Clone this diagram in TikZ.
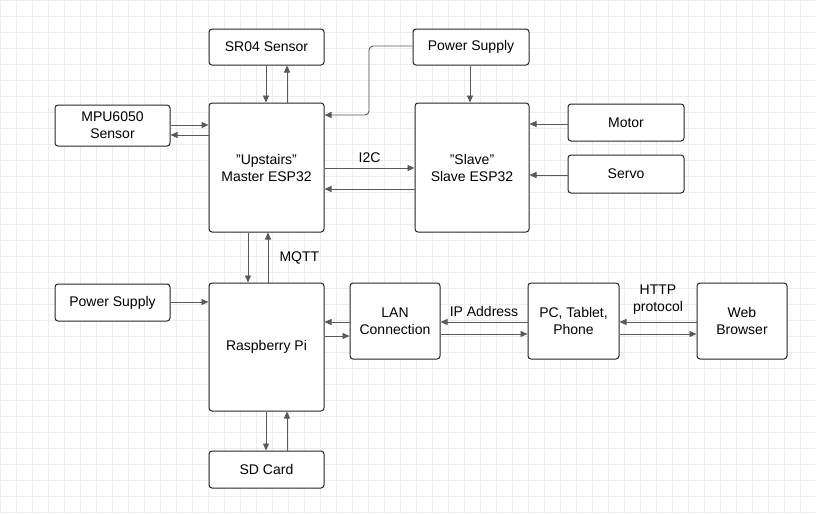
\documentclass[tikz,border=0pt]{standalone}
\usepackage{fontspec}
\setmainfont{Liberation Sans}
\usetikzlibrary{arrows.meta}
\begin{document}
\begin{tikzpicture}[x=1pt,y=-1pt,
  box/.style={draw=black!85,line width=1pt,rounded corners=3pt,fill=white,align=center,font=\fontsize{14}{17}\selectfont,inner sep=0pt},
  lbl/.style={font=\fontsize{14}{17}\selectfont,align=center},
  ar/.style={draw=black!65,line width=0.9pt,-{Triangle[length=7pt,width=6pt]}}]
\useasboundingbox (0,0) rectangle (816,514);
\fill[white] (0,0) rectangle (816,514);
\foreach \i in {0,16,...,816} \draw[black!7,line width=0.5pt] (\i,0) -- (\i,514);
\foreach \j in {0,16,...,514} \draw[black!7,line width=0.5pt] (0,\j) -- (816,\j);
\def\bx#1#2#3#4#5#6{\node[box,minimum width=#4-#2,minimum height=#5-#3] (#1) at ({(#2+#4)/2},{(#3+#5)/2}) {#6};}
\def\q{\symbol{34}}
\bx{sr}{209}{29}{324}{65}{SR04 Sensor}
\bx{pst}{413}{29}{529}{65}{Power Supply}
\bx{mpu}{55}{105}{170}{146}{MPU6050\\Sensor}
\bx{m}{209}{103}{324}{232}{\q Upstairs\q\\Master ESP32}
\bx{s}{415}{103}{529}{232}{\q Slave\q\\Slave ESP32}
\bx{mot}{568}{104}{684}{141}{Motor}
\bx{ser}{568}{155}{684}{193}{Servo}
\bx{psl}{55}{284}{170}{321}{Power Supply}
\bx{rp}{209}{283}{324}{411}{Raspberry Pi}
\bx{lan}{350}{283}{440}{359}{LAN\\Connection}
\bx{pc}{528}{283}{619}{359}{PC, Tablet,\\Phone}
\bx{wb}{697}{283}{787}{359}{Web\\Browser}
\bx{sd}{209}{451}{324}{488}{SD Card}
\draw[ar] (sr.south -| 266,0) -- (m.north -| 266,0);
\draw[ar] (m.north -| 287,0) -- (sr.south -| 287,0);
\draw[ar] (pst.south -| 470,0) -- (s.north -| 470,0);
\draw[ar,rounded corners=4pt] (pst.west |- 0,46) -- (369,46) -- (369,115) -- (m.east |- 0,115);
\draw[ar] (mpu.east |- 0,125) -- (m.west |- 0,125);
\draw[ar] (m.west |- 0,135) -- (mpu.east |- 0,135);
\draw[ar] (m.east |- 0,168) -- node[lbl,above=2pt] {I2C} (s.west |- 0,168);
\draw[ar] (s.west |- 0,189) -- (m.east |- 0,189);
\draw[ar] (mot.west |- 0,124) -- (s.east |- 0,124);
\draw[ar] (ser.west |- 0,175) -- (s.east |- 0,175);
\draw[ar] (m.south -| 248,0) -- (rp.north -| 248,0);
\draw[ar] (rp.north -| 268,0) -- (m.south -| 268,0);
\node[lbl,anchor=west] (mq) at (276,258) {MQTT};
\draw[ar] (psl.east |- 0,302) -- (rp.west |- 0,302);
\draw[ar] (lan.west |- 0,322) -- (rp.east |- 0,322);
\draw[ar] (rp.east |- 0,336) -- (lan.west |- 0,336);
\draw[ar] (pc.west |- 0,322) -- node[lbl,above=2pt] {IP Address} (lan.east |- 0,322);
\draw[ar] (lan.east |- 0,334) -- (pc.west |- 0,334);
\draw[ar] (wb.west |- 0,322) -- node[lbl,above=4pt] {HTTP\\protocol} (pc.east |- 0,322);
\draw[ar] (pc.east |- 0,334) -- (wb.west |- 0,334);
\draw[ar] (rp.south -| 266,0) -- (sd.north -| 266,0);
\draw[ar] (sd.north -| 287,0) -- (rp.south -| 287,0);
\end{tikzpicture}
\end{document}
